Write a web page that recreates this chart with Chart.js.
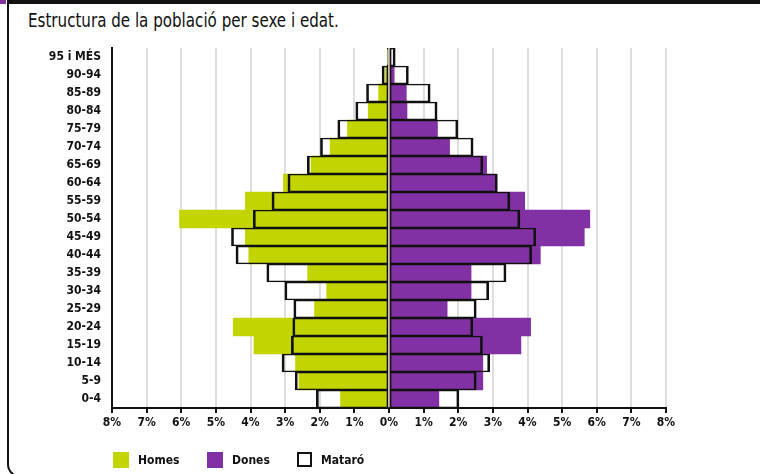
<!DOCTYPE html>
<html><head><meta charset="utf-8">
<script src="https://cdn.jsdelivr.net/npm/chart.js@4"></script>
<style>
html,body{margin:0;padding:0;background:#fff;}
#wrap{position:relative;width:760px;height:474px;overflow:hidden;background:#fff;}
#frame{position:absolute;left:7px;top:0;width:800px;height:478px;box-sizing:border-box;border-left:2.5px solid #111;border-bottom:2.5px solid #111;border-top:4px solid #111;border-bottom-left-radius:14px;}
#corner{position:absolute;left:0;top:0;width:6px;height:4px;background:#8131a3;}
#title{position:absolute;left:28px;top:8px;font-family:"DejaVu Sans Condensed",sans-serif;font-size:20px;color:#111;white-space:nowrap;transform:scaleX(0.84);transform-origin:0 0;}
#c{position:absolute;left:0;top:0;}
#legend{position:absolute;top:452px;left:113px;font-family:"DejaVu Sans Condensed",sans-serif;font-weight:bold;font-size:12px;color:#111;}
.li{position:absolute;top:0;white-space:nowrap;line-height:16px;}
.sw{display:inline-block;width:16px;height:16px;vertical-align:top;margin-right:9px;box-sizing:border-box;}
</style></head>
<body><div id="wrap">
<div id="frame"></div><div id="corner"></div>
<div id="title">Estructura de la població per sexe i edat.</div>
<canvas id="c" width="760" height="474"></canvas>
<div id="legend">
 <div class="li" style="left:0"><span class="sw" style="background:#c3d500"></span>Homes</div>
 <div class="li" style="left:94px"><span class="sw" style="background:#8131a3"></span>Dones</div>
 <div class="li" style="left:184px"><span class="sw" style="border:2px solid #111;background:#fff;width:15px;height:15px"></span>Mataró</div>
</div>
</div>
<script>
const ageGroups = ["95 i MÉS","90-94","85-89","80-84","75-79","70-74","65-69","60-64","55-59","50-54","45-49","40-44","35-39","30-34","25-29","20-24","15-19","10-14","5-9","0-4"];
const homes = [0.03, 0.1, 0.3, 0.6, 1.2, 1.7, 2.25, 3.05, 4.15, 6.05, 4.15, 4.05, 2.35, 1.8, 2.15, 4.5, 3.9, 2.7, 2.6, 1.4];
const dones = [0.05, 0.15, 0.5, 0.52, 1.4, 1.75, 2.82, 3.1, 3.92, 5.8, 5.64, 4.37, 2.37, 2.37, 1.68, 4.09, 3.81, 2.71, 2.71, 1.44];
const mataroHomes = [0.05, 0.2, 0.65, 0.96, 1.48, 1.98, 2.36, 2.92, 3.38, 3.92, 4.55, 4.42, 3.53, 3.01, 2.75, 2.78, 2.82, 3.09, 2.71, 2.1];
const mataroDones = [0.18, 0.56, 1.19, 1.39, 1.99, 2.43, 2.71, 3.13, 3.49, 3.78, 4.24, 4.12, 3.38, 2.88, 2.52, 2.42, 2.7, 2.91, 2.52, 2.02];
const axisMax = 8;

const GREEN = "#c3d500", PURPLE = "#8131a3", INK = "#111111";
Chart.defaults.font.family = '"DejaVu Sans Condensed", sans-serif';
Chart.defaults.color = INK;

new Chart(document.getElementById("c"), {
  type: "bar",
  data: {
    labels: ageGroups,
    datasets: [
      {label:"Homes", data: homes.map(v => -v), backgroundColor: GREEN, borderWidth: 0, order: 1},
      {label:"Dones", data: dones, backgroundColor: PURPLE, borderWidth: 0, order: 1},
      {label:"Mataró", data: mataroHomes.map(v => -v), backgroundColor: "rgba(0,0,0,0)", borderColor: INK,
       borderWidth: {top:1, bottom:1, left:2, right:1}, borderSkipped: false, order: 0},
      {label:"Mataró ", data: mataroDones, backgroundColor: "rgba(0,0,0,0)", borderColor: INK,
       borderWidth: {top:1, bottom:1, left:1, right:2}, borderSkipped: false, order: 0}
    ]
  },
  options: {
    indexAxis: "y",
    responsive: false,
    animation: false,
    datasets: { bar: { barPercentage: 1, categoryPercentage: 1 } },
    layout: { padding: { top: 48, left: 0, right: 94, bottom: 36 } },
    plugins: { legend: { display: false }, tooltip: { enabled: false } },
    scales: {
      y: {
        stacked: true,
        grid: { display: false, drawTicks: false },
        border: { display: true, color: INK, width: 2 },
        ticks: { padding: 11, font: { size: 12, weight: "bold" }, color: INK },
        afterFit: s => { s.width = 112; }
      },
      x: {
        min: -axisMax, max: axisMax,
        grid: { color: "#dedede", lineWidth: 2, tickColor: INK, tickLength: 5, tickWidth: 2 },
        border: { color: INK, width: 2 },
        ticks: { stepSize: 1, padding: 3, font: { size: 12, weight: "bold" }, color: INK,
                 callback: v => Math.abs(v) + "%" },
        afterFit: s => { s.height = 30; }
      }
    }
  }
});
</script>
</body></html>
